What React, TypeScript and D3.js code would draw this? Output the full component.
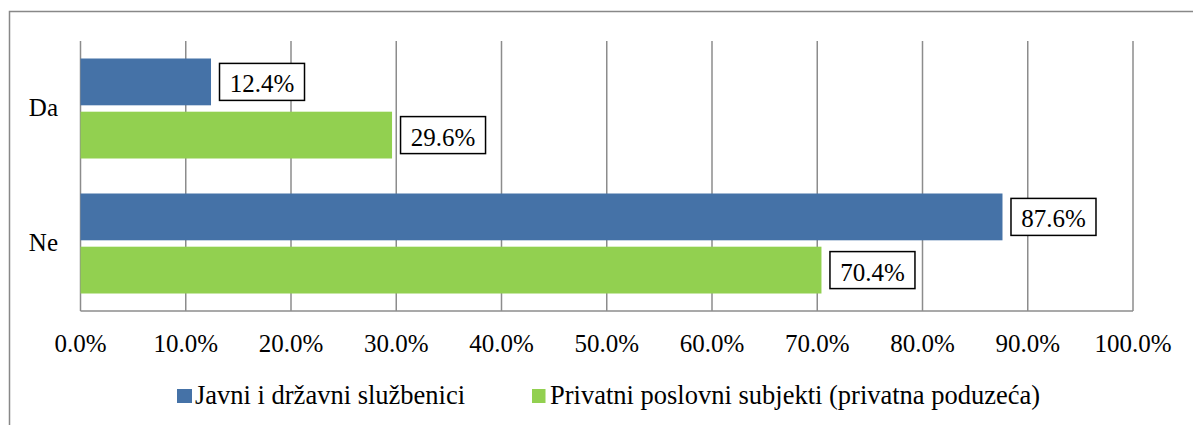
import React from "react";
import * as d3 from "d3";

const categories = ["Da", "Ne"];
const seriesNames = ["Javni i državni službenici", "Privatni poslovni subjekti (privatna poduzeća)"];
const javni = [12.4, 87.6];
const privatni = [29.6, 70.4];
const ticks = [0, 10, 20, 30, 40, 50, 60, 70, 80, 90, 100];
const colors = ["#4572A7", "#92D050"];

export default function App() {
  const W = 1193, H = 425;
  const x = d3.scaleLinear().domain([0, 100]).range([80.5, 1133]);
  const y = d3.scaleBand().domain(categories).range([41, 311]).paddingInner(0).paddingOuter(0);
  const inner = d3.scaleBand().domain(["0", "1"]).range([17.5, 117.5]).paddingInner(0.12);
  const series = [javni, privatni];
  const font = "'Liberation Serif', 'Times New Roman', Times, serif";
  const ts = { fontFamily: font, fontSize: "25px" };
  const ls = { fontFamily: font, fontSize: "26.5px" };
  return (
    <svg width={W} height={H} style={{ position: "absolute", left: 0, top: 0 }}>
      <rect x={0} y={0} width={W} height={H} fill="#fff" />
      <path d={`M9.5,${H} V11.5 H${W}`} fill="none" stroke="#888" strokeWidth={1.5} />
      {ticks.map((t) => (
        <line key={t} x1={x(t)} x2={x(t)} y1={41} y2={311} stroke="#8c8c8c" strokeWidth={1.5} />
      ))}
      <line x1={x(0)} x2={x(100)} y1={311} y2={311} stroke="#8c8c8c" strokeWidth={1.5} />
      {categories.map((c, ci) =>
        series.map((s, si) => {
          const by = (y(c) as number) + (inner(String(si)) as number);
          const bh = inner.bandwidth();
          const xe = x(s[ci]);
          const label = s[ci].toFixed(1) + "%";
          return (
            <g key={c + si}>
              <rect x={x(0)} y={by} width={xe - x(0)} height={bh} fill={colors[si]} />
              <rect x={xe + 8.5} y={by + bh / 2 - 18.5} width={85} height={37} fill="#fff" stroke="#000" strokeWidth={1.5} />
              <text x={xe + 8.5 + 42.5} y={by + bh / 2 + 10.5} textAnchor="middle" style={ts} fill="#000">{label}</text>
            </g>
          );
        })
      )}
      {categories.map((c) => (
        <text key={c} x={58} y={(y(c) as number) + y.bandwidth() / 2 + 7} textAnchor="end" style={ts} fill="#000">{c}</text>
      ))}
      {ticks.map((t) => (
        <text key={t} x={x(t)} y={351.5} textAnchor="middle" style={ts} fill="#000">{t.toFixed(1) + "%"}</text>
      ))}
      <rect x={177} y={389} width={15} height={14} fill={colors[0]} />
      <text x={195} y={404} style={ls} fill="#000">{seriesNames[0]}</text>
      <rect x={532} y={389} width={13.5} height={14} fill={colors[1]} />
      <text x={550} y={404} style={ls} fill="#000">{seriesNames[1]}</text>
    </svg>
  );
}
